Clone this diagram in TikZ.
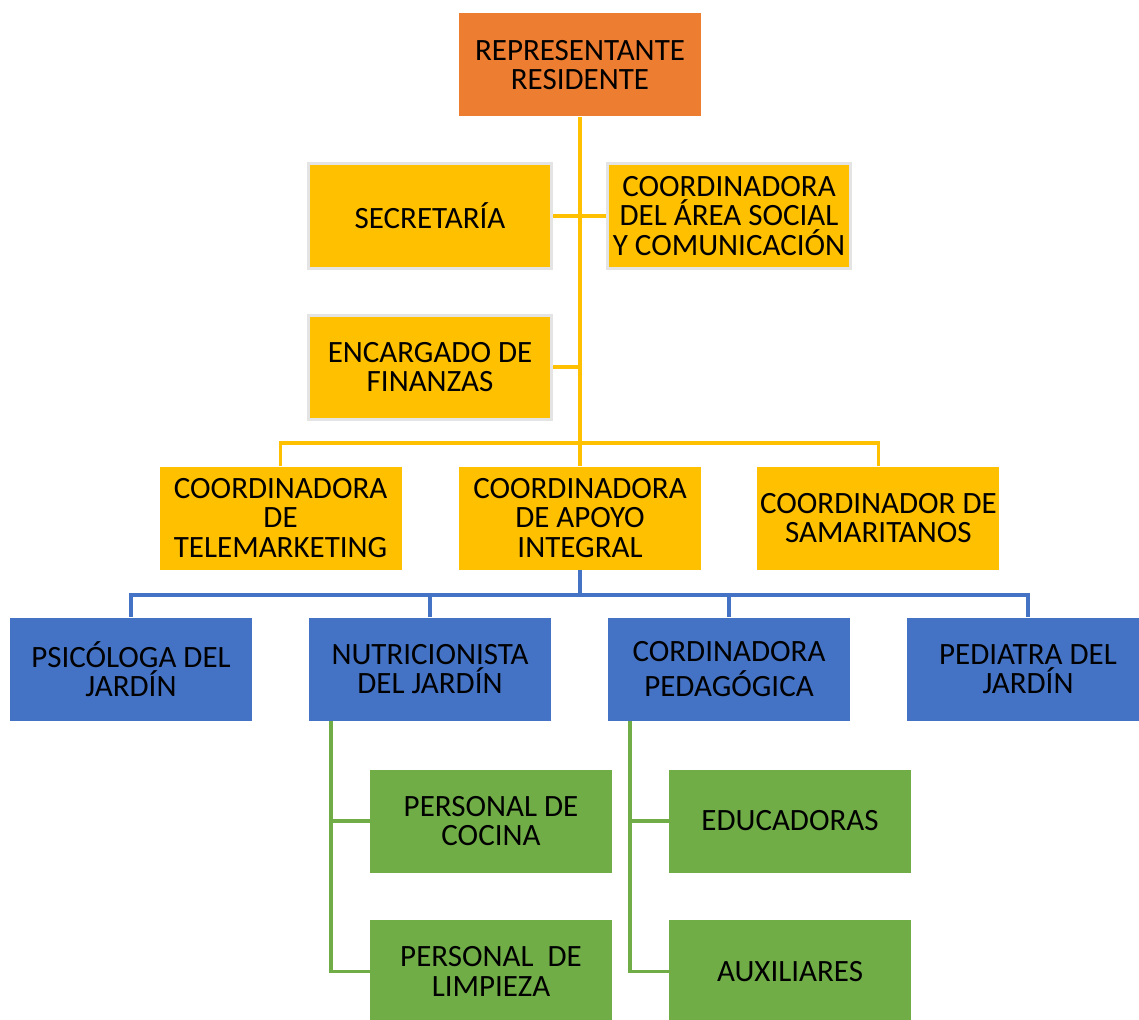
\documentclass[tikz,border=0pt]{standalone}
\usepackage{fontspec}
\setmainfont{Carlito}
\usepackage{tikz}
\usetikzlibrary{positioning, calc}

\definecolor{naranja}{HTML}{ED7D31}
\definecolor{amarillo}{HTML}{FFC000}
\definecolor{azul}{HTML}{4472C4}
\definecolor{verde}{HTML}{70AD47}
\definecolor{borde}{HTML}{E4E4E4}

\begin{document}
\begin{tikzpicture}[x=1pt, y=-1pt]
        \tikzstyle{box} = [rectangle, align=center, minimum width=242pt, minimum height=103pt, inner sep=0pt, font=\fontsize{31}{29.5}\selectfont]
        \tikzstyle{orangebox} = [box, fill=naranja]
        \tikzstyle{yellowbox} = [box, fill=amarillo]
        \tikzstyle{framedbox} = [yellowbox, draw=borde, line width=3pt, minimum height=104pt, minimum width=243pt]
        \tikzstyle{bluebox} = [box, fill=azul]
        \tikzstyle{greenbox} = [box, fill=verde]
        \tikzstyle{yline} = [draw=amarillo, line width=3.5pt]
        \tikzstyle{bline} = [draw=azul, line width=3.5pt]
        \tikzstyle{gline} = [draw=verde, line width=3.5pt]

        \useasboundingbox (0,0) rectangle (1139,1019);

        \node [orangebox] (rep) at (580,65) {REPRESENTANTE\\RESIDENTE};
        \node [framedbox] (sec) at (430,216) {SECRETARÍA};
        \node [framedbox] (social) at (729,216) {COORDINADORA\\DEL ÁREA SOCIAL\\Y COMUNICACIÓN};
        \node [framedbox] (fin) at (430,367) {ENCARGADO DE\\FINANZAS};

        \node [yellowbox] (apoyo) at (580,518) {COORDINADORA\\DE APOYO\\INTEGRAL};
        \node [yellowbox, left=57pt of apoyo] (tele) {COORDINADORA\\DE\\TELEMARKETING};
        \node [yellowbox, right=56pt of apoyo] (sam) {COORDINADOR DE\\SAMARITANOS};

        \node [bluebox] (psic) at (131,669) {PSICÓLOGA DEL\\JARDÍN};
        \node [bluebox] (nutri) at (430,669) {NUTRICIONISTA\\DEL JARDÍN};
        \node [bluebox] (cord) at (729,669) {CORDINADORA\\[6pt]PEDAGÓGICA};
        \node [bluebox] (ped) at (1028,669) {PEDIATRA DEL\\JARDÍN};

        \node [greenbox] (cocina) at (491,821) {PERSONAL DE\\COCINA};
        \node [greenbox, below=47pt of cocina] (limp) {PERSONAL \ DE\\LIMPIEZA};
        \node [greenbox] (educ) at (790,821) {EDUCADORAS};
        \node [greenbox, below=47pt of educ] (aux) {AUXILIARES};

        \coordinate (ybus) at (580,443);
        \coordinate (bbus) at (580,595);
        \coordinate (ng) at ($(nutri.south west)+(22,0)$);
        \coordinate (cg) at ($(cord.south west)+(22,0)$);

        % yellow levels
        \path [yline] (rep) -- (apoyo);
        \path [yline] (sec) -- (social);
        \path [yline] (fin.east) -- (fin.east -| rep.south);
        \path [yline] (tele.north) |- (ybus) -| (sam.north);

        % blue level
        \path [bline] (apoyo) -- (bbus);
        \path [bline] (psic.north) |- (bbus) -| (ped.north);
        \path [bline] (nutri.north) |- (bbus) -| (cord.north);

        % green level
        \path [gline] (ng) |- (cocina.west);
        \path [gline] (ng) |- (limp.west);
        \path [gline] (cg) |- (educ.west);
        \path [gline] (cg) |- (aux.west);
    \end{tikzpicture}
\end{document}
